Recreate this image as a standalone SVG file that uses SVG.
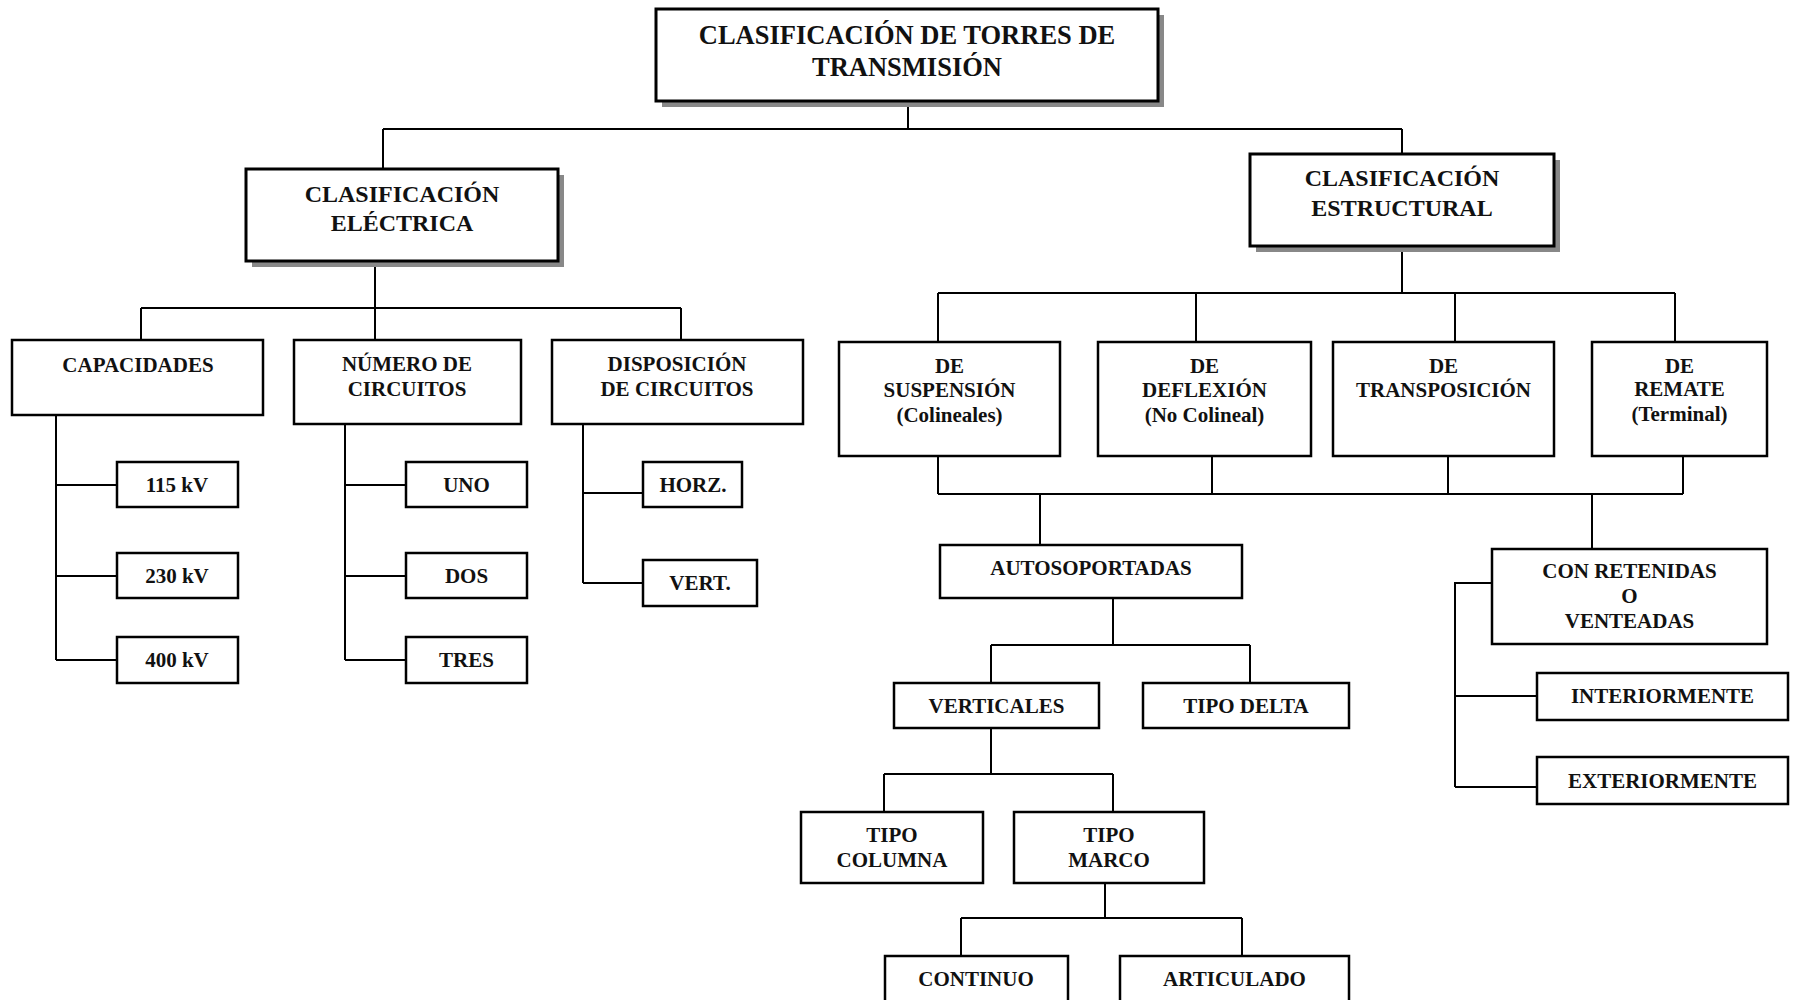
<svg xmlns="http://www.w3.org/2000/svg" width="1793" height="1000" viewBox="0 0 1793 1000">
<style>
  .box { fill: #fff; stroke: #000; stroke-width: 2.5; }
  .big { fill: #fff; stroke: #000; stroke-width: 3; }
  .shadow { fill: #888; stroke: none; }
  .conn { fill: none; stroke: #000; stroke-width: 2; }
  text { font-family: "Liberation Serif", "Times New Roman", serif; font-weight: bold; text-anchor: middle; fill: #111; }
  .t1 { font-size: 26.5px; }
  .t2 { font-size: 24px; }
  .t3 { font-size: 21px; }
</style>
<rect width="1793" height="1000" fill="#fff"/>

<g id="connectors">
  <!-- title to level 1 -->
  <path class="conn" d="M908,101 V129 M383,129 H1402 M383,129 V169 M1402,129 V154"/>
  <!-- electrica -->
  <path class="conn" d="M375,261 V308 M141,308 H681 M141,308 V340 M375,308 V340 M681,308 V340"/>
  <!-- capacidades -->
  <path class="conn" d="M56,415 V660 M56,485 H117 M56,576 H117 M56,660 H117"/>
  <!-- numero -->
  <path class="conn" d="M345,424 V660 M345,485 H406 M345,576 H406 M345,660 H406"/>
  <!-- disposicion -->
  <path class="conn" d="M583,424 V583 M583,493 H643 M583,583 H643"/>
  <!-- estructural -->
  <path class="conn" d="M1402,246 V293 M938,293 H1675 M938,293 V342 M1196,293 V342 M1455,293 V342 M1675,293 V342"/>
  <!-- bottoms of type boxes -->
  <path class="conn" d="M938,456 V494 M1212,456 V494 M1448,456 V494 M1683,456 V494 M938,494 H1683 M1040,494 V545 M1592,494 V549"/>
  <!-- autosoportadas -->
  <path class="conn" d="M1113,598 V645 M991,645 H1250 M991,645 V683 M1250,645 V683"/>
  <!-- verticales -->
  <path class="conn" d="M991,728 V774 M884,774 H1113 M884,774 V812 M1113,774 V812"/>
  <!-- tipo marco -->
  <path class="conn" d="M1105,883 V918 M961,918 H1242 M961,918 V956 M1242,918 V956"/>
  <!-- con retenidas -->
  <path class="conn" d="M1492,583 H1455 V787 M1455,696 H1537 M1455,787 H1537"/>
</g>

<g id="n-title">
  <rect class="shadow" x="662" y="15" width="502" height="92"/>
  <rect class="big" x="656" y="9" width="502" height="92"/>
  <text class="t1" x="907" y="44">CLASIFICACIÓN DE TORRES DE</text>
  <text class="t1" x="907" y="76">TRANSMISIÓN</text>
</g>

<g id="n-electrica">
  <rect class="shadow" x="252" y="175" width="312" height="92"/>
  <rect class="big" x="246" y="169" width="312" height="92"/>
  <text class="t2" x="402" y="202">CLASIFICACIÓN</text>
  <text class="t2" x="402" y="231">ELÉCTRICA</text>
</g>

<g id="n-estructural">
  <rect class="shadow" x="1256" y="160" width="304" height="92"/>
  <rect class="big" x="1250" y="154" width="304" height="92"/>
  <text class="t2" x="1402" y="186">CLASIFICACIÓN</text>
  <text class="t2" x="1402" y="216">ESTRUCTURAL</text>
</g>

<g id="n-capacidades">
  <rect class="box" x="12" y="340" width="251" height="75"/>
  <text class="t3" x="138" y="372">CAPACIDADES</text>
</g>
<g id="n-115">
  <rect class="box" x="117" y="462" width="121" height="45"/>
  <text class="t3" x="177" y="492">115 kV</text>
</g>
<g id="n-230">
  <rect class="box" x="117" y="553" width="121" height="45"/>
  <text class="t3" x="177" y="583">230 kV</text>
</g>
<g id="n-400">
  <rect class="box" x="117" y="637" width="121" height="46"/>
  <text class="t3" x="177" y="667">400 kV</text>
</g>

<g id="n-numero">
  <rect class="box" x="294" y="340" width="227" height="84"/>
  <text class="t3" x="407" y="371">NÚMERO DE</text>
  <text class="t3" x="407" y="396">CIRCUITOS</text>
</g>
<g id="n-uno">
  <rect class="box" x="406" y="462" width="121" height="45"/>
  <text class="t3" x="466.5" y="492">UNO</text>
</g>
<g id="n-dos">
  <rect class="box" x="406" y="553" width="121" height="45"/>
  <text class="t3" x="466.5" y="583">DOS</text>
</g>
<g id="n-tres">
  <rect class="box" x="406" y="637" width="121" height="46"/>
  <text class="t3" x="466.5" y="667">TRES</text>
</g>

<g id="n-disposicion">
  <rect class="box" x="552" y="340" width="251" height="84"/>
  <text class="t3" x="677" y="371">DISPOSICIÓN</text>
  <text class="t3" x="677" y="396">DE CIRCUITOS</text>
</g>
<g id="n-horz">
  <rect class="box" x="643" y="462" width="99" height="45"/>
  <text class="t3" x="693" y="492">HORZ.</text>
</g>
<g id="n-vert">
  <rect class="box" x="643" y="560" width="114" height="46"/>
  <text class="t3" x="700" y="590">VERT.</text>
</g>

<g id="n-suspension">
  <rect class="box" x="839" y="342" width="221" height="114"/>
  <text class="t3" x="949.5" y="373">DE</text>
  <text class="t3" x="949.5" y="397">SUSPENSIÓN</text>
  <text class="t3" x="949.5" y="422">(Colineales)</text>
</g>
<g id="n-deflexion">
  <rect class="box" x="1098" y="342" width="213" height="114"/>
  <text class="t3" x="1204.5" y="373">DE</text>
  <text class="t3" x="1204.5" y="397">DEFLEXIÓN</text>
  <text class="t3" x="1204.5" y="422">(No Colineal)</text>
</g>
<g id="n-transposicion">
  <rect class="box" x="1333" y="342" width="221" height="114"/>
  <text class="t3" x="1443.5" y="373">DE</text>
  <text class="t3" x="1443.5" y="397">TRANSPOSICIÓN</text>
</g>
<g id="n-remate">
  <rect class="box" x="1592" y="342" width="175" height="114"/>
  <text class="t3" x="1679.5" y="373">DE</text>
  <text class="t3" x="1679.5" y="396">REMATE</text>
  <text class="t3" x="1679.5" y="421">(Terminal)</text>
</g>

<g id="n-autosoportadas">
  <rect class="box" x="940" y="545" width="302" height="53"/>
  <text class="t3" x="1091" y="575">AUTOSOPORTADAS</text>
</g>
<g id="n-verticales">
  <rect class="box" x="894" y="683" width="205" height="45"/>
  <text class="t3" x="996.5" y="713">VERTICALES</text>
</g>
<g id="n-delta">
  <rect class="box" x="1143" y="683" width="206" height="45"/>
  <text class="t3" x="1246" y="713">TIPO DELTA</text>
</g>
<g id="n-columna">
  <rect class="box" x="801" y="812" width="182" height="71"/>
  <text class="t3" x="892" y="842">TIPO</text>
  <text class="t3" x="892" y="867">COLUMNA</text>
</g>
<g id="n-marco">
  <rect class="box" x="1014" y="812" width="190" height="71"/>
  <text class="t3" x="1109" y="842">TIPO</text>
  <text class="t3" x="1109" y="867">MARCO</text>
</g>
<g id="n-continuo">
  <rect class="box" x="885" y="956" width="183" height="60"/>
  <text class="t3" x="976" y="986">CONTINUO</text>
</g>
<g id="n-articulado">
  <rect class="box" x="1120" y="956" width="229" height="60"/>
  <text class="t3" x="1234.5" y="986">ARTICULADO</text>
</g>

<g id="n-retenidas">
  <rect class="box" x="1492" y="549" width="275" height="95"/>
  <text class="t3" x="1629.5" y="578">CON RETENIDAS</text>
  <text class="t3" x="1629.5" y="603">O</text>
  <text class="t3" x="1629.5" y="628">VENTEADAS</text>
</g>
<g id="n-interiormente">
  <rect class="box" x="1537" y="673" width="251" height="47"/>
  <text class="t3" x="1662.5" y="703">INTERIORMENTE</text>
</g>
<g id="n-exteriormente">
  <rect class="box" x="1537" y="757" width="251" height="47"/>
  <text class="t3" x="1662.5" y="788">EXTERIORMENTE</text>
</g>
</svg>
